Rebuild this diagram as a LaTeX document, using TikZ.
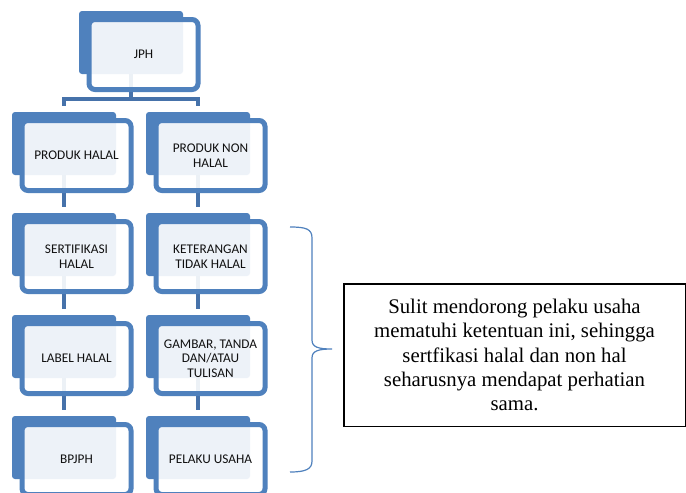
\documentclass[tikz,border=0pt]{standalone}
\usepackage{fontspec}
\setmainfont{Liberation Serif}
\newfontfamily\boxfont{Carlito}
\usepackage{xcolor}
\usepackage{tikz}
\usetikzlibrary{positioning}
\usetikzlibrary{backgrounds}
\usetikzlibrary{calc}

\definecolor{smartblue}{HTML}{4F81BD}
\definecolor{linkblue}{HTML}{4672AA}
\definecolor{labelgray}{HTML}{101010}

\tikzset{
  backbox/.style={fill=smartblue, rounded corners=3pt, minimum width=104pt, minimum height=63pt, inner sep=0pt},
  frontbox/.style={draw=smartblue, line width=5pt, rounded corners=6pt, fill=white, fill opacity=0.9, text opacity=1,
    minimum width=109pt, minimum height=70pt, inner sep=2pt, align=center, text=labelgray,
    font=\boxfont\fontsize{13.3}{14.6}\selectfont},
  link/.style={draw=linkblue, line width=4pt},
  notebox/.style={draw, line width=1.5pt, minimum width=341.5pt, minimum height=142.5pt, align=center,
    font=\fontsize{20.8}{24.3}\selectfont}
}

\begin{document}
\begin{tikzpicture}[x=1pt,y=-1pt]
\useasboundingbox (0,0) rectangle (686,493);
\clip (0,0) rectangle (686,493);

% back shapes
\node[backbox] (jphb) at (131,42.5) {};
\node[backbox] (phb) at (64,143.5) {};
\node[backbox] (pnb) at (198,143.5) {};
\node[backbox] (shb) at (64,244.5) {};
\node[backbox] (kthb) at (198,244.5) {};
\node[backbox] (lhb) at (64,346.5) {};
\node[backbox] (gtb) at (198,346.5) {};
\node[backbox] (bpb) at (64,447.5) {};
\node[backbox] (pub) at (198,447.5) {};

% front boxes
\node[frontbox] (jph) at ($(jphb)+(12.5,12)$) {JPH};
\node[frontbox] (ph) at ($(phb)+(12.5,12)$) {PRODUK HALAL};
\node[frontbox] (pn) at ($(pnb)+(12.5,12)$) {PRODUK NON\\HALAL};
\node[frontbox] (sh) at ($(shb)+(12.5,12)$) {SERTIFIKASI\\HALAL};
\node[frontbox] (kth) at ($(kthb)+(12.5,12)$) {KETERANGAN\\TIDAK HALAL};
\node[frontbox] (lh) at ($(lhb)+(12.5,12)$) {LABEL HALAL};
\node[frontbox] (gt) at ($(gtb)+(12.5,12)$) {GAMBAR, TANDA\\DAN/ATAU\\TULISAN};
\node[frontbox] (bp) at ($(bpb)+(12.5,12)$) {BPJPH};
\node[frontbox] (pu) at ($(pub)+(12.5,12)$) {PELAKU USAHA};

% connectors
\begin{scope}[on background layer]
\fill[white] (0,0) rectangle (686,493);
\coordinate (bar) at (131,99);
\draw[link] (jphb.south) -- (bar);
\draw[link] ([yshift=6pt]phb.north) |- (bar) -| ([yshift=6pt]pnb.north);

\draw[link] (phb.south) -- ([yshift=6pt]shb.north);
\draw[link] (shb.south) -- ([yshift=6pt]lhb.north);
\draw[link] (lhb.south) -- ([yshift=6pt]bpb.north);

\draw[link] (pnb.south) -- ([yshift=6pt]kthb.north);
\draw[link] (kthb.south) -- ([yshift=6pt]gtb.north);
\draw[link] (gtb.south) -- ([yshift=6pt]pub.north);
\end{scope}

% brace and note
\draw[smartblue, line width=1.2pt] (290,227) .. controls (306,227) and (312,229) .. (312,238) -- (312,340)
  .. controls (312,347) and (318,349) .. (332,349) .. controls (318,349) and (312,351) .. (312,358)
  -- (312,461) .. controls (312,469) and (306,472) .. (290,472);

\node[notebox] (note) at (514.5,355) {Sulit mendorong pelaku usaha\\ mematuhi ketentuan ini, sehingga\\ sertfikasi halal dan non hal\\ seharusnya mendapat perhatian\\ sama.};
\end{tikzpicture}
\end{document}
